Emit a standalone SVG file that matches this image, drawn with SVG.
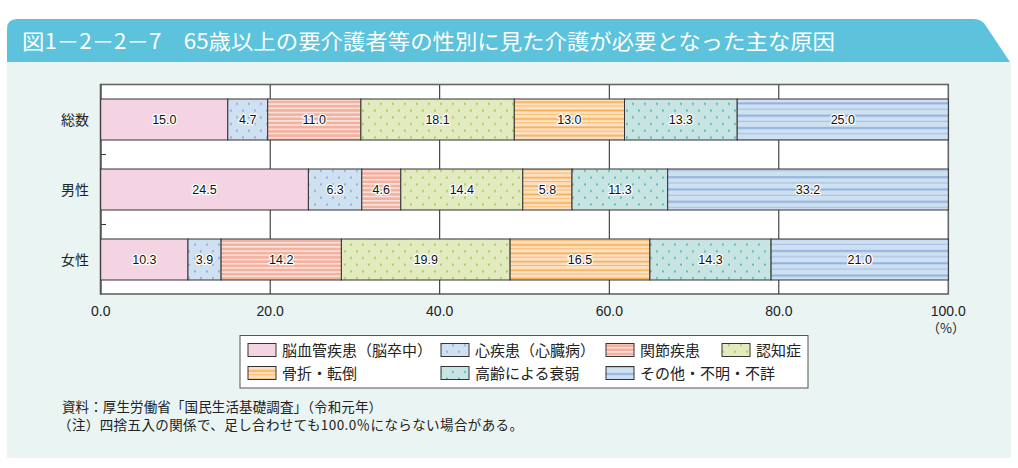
<svg xmlns="http://www.w3.org/2000/svg" width="1018" height="468" viewBox="0 0 1018 468">
<style>
.seg{stroke:#333;stroke-width:1}
.lbl{font-family:"Liberation Sans",Arial,sans-serif;font-size:12.5px;fill:#111;text-anchor:middle;stroke:#fff;stroke-width:2.5px;paint-order:stroke;stroke-linejoin:round}
.ax{font-family:"Liberation Sans",Arial,sans-serif;font-size:14px;fill:#222;text-anchor:middle}
.cat{font-family:"Noto Sans CJK JP",sans-serif;font-size:14px;fill:#222;text-anchor:middle}
.leg{font-family:"Noto Sans CJK JP",sans-serif;font-size:15px;fill:#222}
.note{font-family:"Noto Sans CJK JP",sans-serif;font-size:13.5px;fill:#222}
.grid{stroke:#222;stroke-width:1}
</style>
<defs>
<pattern id="pBlueDot" width="12" height="13.4" patternUnits="userSpaceOnUse"><rect width="12" height="13.4" fill="#CFE0F1"/><rect x="2" y="2.5" width="1.8" height="1.8" fill="#7EA6DA"/><rect x="8" y="9.2" width="1.8" height="1.8" fill="#7EA6DA"/></pattern>
<pattern id="pGreenDot" width="12" height="13.4" patternUnits="userSpaceOnUse"><rect width="12" height="13.4" fill="#E2EBBF"/><rect x="2" y="2.5" width="1.8" height="1.8" fill="#A3C644"/><rect x="8" y="9.2" width="1.8" height="1.8" fill="#A3C644"/></pattern>
<pattern id="pTealDot" width="12" height="13.4" patternUnits="userSpaceOnUse"><rect width="12" height="13.4" fill="#C8E4E2"/><rect x="2" y="2.5" width="1.8" height="1.8" fill="#3FB8AF"/><rect x="8" y="9.2" width="1.8" height="1.8" fill="#3FB8AF"/></pattern>
<pattern id="pSalmon" width="10" height="4.2" patternUnits="userSpaceOnUse"><rect width="10" height="4.2" fill="#F3B1A0"/><rect y="2.8" width="10" height="1" fill="#fff"/></pattern>
<pattern id="pOrange" width="10" height="8.4" patternUnits="userSpaceOnUse"><rect width="10" height="8.4" fill="#FDE1C7"/><rect y="0.5" width="10" height="1.7" fill="#F5AD48"/><rect y="4.7" width="10" height="1" fill="#F7B966"/></pattern>
<pattern id="pBlueLine" width="10" height="12.3" patternUnits="userSpaceOnUse"><rect width="10" height="12.3" fill="#CFE0F1"/><rect y="4" width="10" height="2" fill="#8FB2DE"/><rect y="10.2" width="10" height="1" fill="#9DBDE4"/></pattern>
</defs>

<g id="header">
<rect x="7" y="62" width="1004" height="396" fill="#EAF4F3"/>
<path d="M7,62 L7,29 Q7,19 17,19 L974,19 Q982,19 986,26 L1010,62 Z" fill="#5DC2DC"/>
<text x="22" y="49" font-family="Noto Sans CJK JP, sans-serif" font-size="21" fill="#fff" textLength="813" lengthAdjust="spacingAndGlyphs">図1－2－2－7　65歳以上の要介護者等の性別に見た介護が必要となった主な原因</text>
</g>

<g id="plot">
<rect x="100.7" y="84.5" width="847.6" height="209.5" fill="#fff" stroke="#666" stroke-width="1.6"/>
<line class="grid" x1="270.2" y1="85" x2="270.2" y2="294"/>
<line class="grid" x1="439.7" y1="85" x2="439.7" y2="294"/>
<line class="grid" x1="609.3" y1="85" x2="609.3" y2="294"/>
<line class="grid" x1="778.8" y1="85" x2="778.8" y2="294"/>
<line x1="101" y1="154.5" x2="106" y2="154.5" stroke="#333" stroke-width="1"/>
<line x1="101" y1="224.5" x2="106" y2="224.5" stroke="#333" stroke-width="1"/>
<line x1="100.7" y1="84" x2="100.7" y2="294.5" stroke="#555" stroke-width="1.8"/>
</g>

<g id="row-total">
<text class="cat" x="75" y="125">総数</text>
<rect class="seg" x="100.7" y="99" width="127.1" height="41" fill="#F4D3E2"/>
<rect class="seg" x="227.8" y="99" width="39.9" height="41" fill="url(#pBlueDot)"/>
<rect class="seg" x="267.7" y="99" width="93.2" height="41" fill="url(#pSalmon)"/>
<rect class="seg" x="360.9" y="99" width="153.4" height="41" fill="url(#pGreenDot)"/>
<rect class="seg" x="514.3" y="99" width="110.2" height="41" fill="url(#pOrange)"/>
<rect class="seg" x="624.5" y="99" width="112.7" height="41" fill="url(#pTealDot)"/>
<rect class="seg" x="737.2" y="99" width="211.1" height="41" fill="url(#pBlueLine)"/>
<text class="lbl" x="164.3" y="124">15.0</text>
<text class="lbl" x="247.8" y="124">4.7</text>
<text class="lbl" x="314.3" y="124">11.0</text>
<text class="lbl" x="437.6" y="124">18.1</text>
<text class="lbl" x="569.4" y="124">13.0</text>
<text class="lbl" x="680.9" y="124">13.3</text>
<text class="lbl" x="842.8" y="124">25.0</text>
</g>

<g id="row-male">
<text class="cat" x="75" y="195">男性</text>
<rect class="seg" x="100.7" y="169" width="207.7" height="41" fill="#F4D3E2"/>
<rect class="seg" x="308.4" y="169" width="53.4" height="41" fill="url(#pBlueDot)"/>
<rect class="seg" x="361.8" y="169" width="39" height="41" fill="url(#pSalmon)"/>
<rect class="seg" x="400.8" y="169" width="122" height="41" fill="url(#pGreenDot)"/>
<rect class="seg" x="522.8" y="169" width="49.2" height="41" fill="url(#pOrange)"/>
<rect class="seg" x="572" y="169" width="95.7" height="41" fill="url(#pTealDot)"/>
<rect class="seg" x="667.7" y="169" width="280.6" height="41" fill="url(#pBlueLine)"/>
<text class="lbl" x="204.5" y="194">24.5</text>
<text class="lbl" x="335.1" y="194">6.3</text>
<text class="lbl" x="381.3" y="194">4.6</text>
<text class="lbl" x="461.8" y="194">14.4</text>
<text class="lbl" x="547.4" y="194">5.8</text>
<text class="lbl" x="619.9" y="194">11.3</text>
<text class="lbl" x="808" y="194">33.2</text>
</g>

<g id="row-female">
<text class="cat" x="75" y="265">女性</text>
<rect class="seg" x="100.7" y="239" width="87.3" height="41" fill="#F4D3E2"/>
<rect class="seg" x="188" y="239" width="33.1" height="41" fill="url(#pBlueDot)"/>
<rect class="seg" x="221.1" y="239" width="120.3" height="41" fill="url(#pSalmon)"/>
<rect class="seg" x="341.4" y="239" width="168.7" height="41" fill="url(#pGreenDot)"/>
<rect class="seg" x="510.1" y="239" width="139.8" height="41" fill="url(#pOrange)"/>
<rect class="seg" x="649.9" y="239" width="121.2" height="41" fill="url(#pTealDot)"/>
<rect class="seg" x="771.1" y="239" width="177.2" height="41" fill="url(#pBlueLine)"/>
<text class="lbl" x="144.4" y="264">10.3</text>
<text class="lbl" x="204.5" y="264">3.9</text>
<text class="lbl" x="281.2" y="264">14.2</text>
<text class="lbl" x="425.8" y="264">19.9</text>
<text class="lbl" x="580" y="264">16.5</text>
<text class="lbl" x="710.5" y="264">14.3</text>
<text class="lbl" x="859.7" y="264">21.0</text>
</g>

<g id="axis">
<text class="ax" x="100.7" y="316">0.0</text>
<text class="ax" x="270.2" y="316">20.0</text>
<text class="ax" x="439.7" y="316">40.0</text>
<text class="ax" x="609.3" y="316">60.0</text>
<text class="ax" x="778.8" y="316">80.0</text>
<text class="ax" x="948.3" y="316">100.0</text>
<text x="946" y="333" font-family="Noto Sans CJK JP, sans-serif" font-size="13" fill="#222" text-anchor="middle">（%）</text>
</g>

<g id="legend">
<rect x="240" y="335.5" width="568" height="52.5" fill="#fff" stroke="#555" stroke-width="1"/>
<g id="leg-1"><rect class="seg" x="248" y="343.5" width="28" height="13" fill="#F4D3E2"/><text class="leg" x="282" y="355.5" textLength="150">脳血管疾患（脳卒中）</text></g>
<g id="leg-2"><rect class="seg" x="441" y="343.5" width="28" height="13" fill="url(#pBlueDot)"/><text class="leg" x="475" y="355.5" textLength="120">心疾患（心臓病）</text></g>
<g id="leg-3"><rect class="seg" x="606" y="343.5" width="28" height="13" fill="url(#pSalmon)"/><text class="leg" x="640" y="355.5">関節疾患</text></g>
<g id="leg-4"><rect class="seg" x="722" y="343.5" width="28" height="13" fill="url(#pGreenDot)"/><text class="leg" x="756" y="355.5">認知症</text></g>
<g id="leg-5"><rect class="seg" x="248" y="366.5" width="28" height="13" fill="url(#pOrange)"/><text class="leg" x="282" y="378.5">骨折・転倒</text></g>
<g id="leg-6"><rect class="seg" x="441" y="366.5" width="28" height="13" fill="url(#pTealDot)"/><text class="leg" x="475" y="378.5">高齢による衰弱</text></g>
<g id="leg-7"><rect class="seg" x="606" y="366.5" width="28" height="13" fill="url(#pBlueLine)"/><text class="leg" x="640" y="378.5">その他・不明・不詳</text></g>
</g>

<g id="notes">
<text class="note" x="62" y="411.5" textLength="320">資料：厚生労働省「国民生活基礎調査」（令和元年）</text>
<text class="note" x="58" y="430" textLength="465">（注）四捨五入の関係で、足し合わせても100.0％にならない場合がある。</text>
</g>
</svg>
